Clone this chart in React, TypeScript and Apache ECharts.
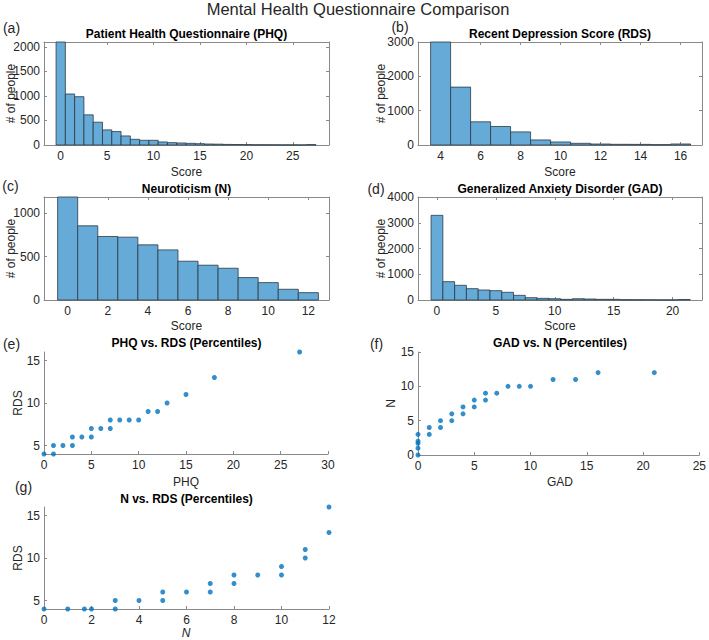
import React, { useEffect, useRef } from "react";
import * as echarts from "echarts";

// ---------- Data ----------
const phqScores = [0, 1, 2, 3, 4, 5, 6, 7, 8, 9, 10, 11, 12, 13, 14, 15, 16, 17, 18, 19, 20, 21, 22, 23, 24, 25, 26, 27];
const phqCounts = [2100, 1040, 985, 615, 465, 308, 274, 185, 116, 96, 96, 62, 48, 41, 34, 27, 20, 17, 12, 10, 8, 6, 5, 4, 3, 3, 2, 8];

const rdsScores = [4, 5, 6, 7, 8, 9, 10, 11, 12, 13, 14, 15, 16];
const rdsCounts = [3000, 1686, 676, 539, 382, 147, 88, 49, 29, 20, 18, 10, 30];

const nScores = [0, 1, 2, 3, 4, 5, 6, 7, 8, 9, 10, 11, 12];
const nCounts = [1190, 857, 734, 726, 637, 579, 448, 402, 367, 259, 201, 124, 85];

const gadScores = [0, 1, 2, 3, 4, 5, 6, 7, 8, 9, 10, 11, 12, 13, 14, 15, 16, 17, 18, 19, 20, 21];
const gadCounts = [3288, 712, 570, 440, 388, 362, 298, 181, 90, 65, 50, 26, 50, 39, 26, 26, 13, 10, 8, 6, 5, 20];

// Percentile scatter data
const ePHQ = [0, 1, 1, 2, 3, 3, 4, 5, 5, 6, 7, 7, 8, 9, 10, 11, 12, 13, 15, 18, 27];
const eRDS = [4, 4, 5, 5, 5, 6, 6, 6, 7, 7, 7, 8, 8, 8, 8, 9, 9, 10, 11, 13, 16];

const fGAD = [0, 0, 0, 0, 0, 1, 1, 2, 2, 3, 3, 4, 4, 5, 5, 6, 6, 7, 8, 9, 10, 12, 14, 16, 21];
const fN = [0, 1, 1.7, 2, 3, 3, 4, 4, 5, 5, 6, 6, 7, 7, 8, 8, 9, 9, 10, 10, 10, 11, 11, 12, 12];

const gN = [0, 1, 1.7, 2, 3, 3, 4, 5, 5, 6, 7, 7, 8, 8, 9, 10, 10, 11, 11, 12, 12];
const gRDS = [4, 4, 4, 4, 4, 5, 5, 5, 6, 6, 6, 7, 7, 8, 8, 8, 9, 10, 11, 13, 16];

// Tick labels
const phqTicks = [0, 5, 10, 15, 20, 25];
const rdsTicks = [4, 6, 8, 10, 12, 14, 16];
const nTicks = [0, 2, 4, 6, 8, 10, 12];
const gadTicks = [0, 5, 10, 15, 20];
const aYTicks = [0, 500, 1000, 1500, 2000];
const bYTicks = [0, 1000, 2000, 3000];
const cYTicks = [0, 500, 1000];
const dYTicks = [0, 1000, 2000, 3000, 4000];
const eXTicks = [0, 5, 10, 15, 20, 25, 30];
const eYTicks = [5, 10, 15];
const fXTicks = [0, 5, 10, 15, 20, 25];
const fYTicks = [0, 5, 10, 15];
const gXTicks = [0, 2, 4, 6, 8, 10, 12];
const gYTicks = [5, 10, 15];

// ---------- Styles ----------
const FONT = "'Liberation Sans', Arial, Helvetica, sans-serif";
const AXIS_COLOR = "#8a8a8a";
const TEXT_COLOR = "#262626";
const BAR_FILL = "#66AAD7";
const BAR_EDGE = "#2b3a44";
const DOT_COLOR = "#0072BD";

function makeAxis(
  kind: "x" | "y",
  gridIndex: number,
  position: string,
  min: number,
  max: number,
  ticks: number[],
  showLabel: boolean
) {
  return {
    type: "value",
    gridIndex,
    position,
    min,
    max,
    axisLine: { show: true, onZero: false, lineStyle: { color: AXIS_COLOR, width: 1 } },
    axisTick: { show: true, inside: true, length: 3, customValues: ticks, lineStyle: { color: AXIS_COLOR } },
    axisLabel: {
      show: showLabel,
      customValues: ticks,
      formatter: (v: number) => String(v),
      margin: kind === "x" ? 5 : 4,
      color: TEXT_COLOR,
      fontSize: 12,
      fontFamily: FONT,
    },
    splitLine: { show: false },
  };
}

export default function App() {
  const ref = useRef<HTMLDivElement>(null);

  useEffect(() => {
    if (!ref.current) return;
    const chart = echarts.init(ref.current, undefined, { renderer: "svg" });

    const grids: any[] = [];
    const xAxes: any[] = [];
    const yAxes: any[] = [];
    const series: any[] = [];

    const addHist = (
      g: { left: number; top: number; width: number; height: number },
      xmin: number,
      xmax: number,
      xticks: number[],
      ymax: number,
      yticks: number[],
      scores: number[],
      counts: number[]
    ) => {
      const gi = grids.length;
      grids.push({ ...g, containLabel: false });
      const xi = xAxes.length;
      xAxes.push(makeAxis("x", gi, "bottom", xmin, xmax, xticks, true));
      xAxes.push(makeAxis("x", gi, "top", xmin, xmax, xticks, false));
      const yi = yAxes.length;
      yAxes.push(makeAxis("y", gi, "left", 0, ymax, yticks, true));
      yAxes.push(makeAxis("y", gi, "right", 0, ymax, yticks, false));
      series.push({
        type: "custom",
        xAxisIndex: xi,
        yAxisIndex: yi,
        silent: true,
        encode: { x: 0, y: 1 },
        data: scores.map((s, i) => [s, counts[i]]),
        renderItem: (params: any, api: any) => {
          const x = api.value(0);
          const y = Math.min(api.value(1), ymax);
          const p0 = api.coord([x - 0.5, y]);
          const p1 = api.coord([x + 0.5, 0]);
          return {
            type: "rect",
            shape: { x: p0[0], y: p0[1], width: p1[0] - p0[0], height: p1[1] - p0[1] },
            style: { fill: BAR_FILL, stroke: BAR_EDGE, lineWidth: 0.8 },
          };
        },
      });
    };

    const addScatter = (
      g: { left: number; top: number; width: number; height: number },
      xmin: number,
      xmax: number,
      xticks: number[],
      ymin: number,
      ymax: number,
      yticks: number[],
      xs: number[],
      ys: number[]
    ) => {
      const gi = grids.length;
      grids.push({ ...g, containLabel: false });
      const xi = xAxes.length;
      xAxes.push(makeAxis("x", gi, "bottom", xmin, xmax, xticks, true));
      const yi = yAxes.length;
      yAxes.push(makeAxis("y", gi, "left", ymin, ymax, yticks, true));
      series.push({
        type: "scatter",
        xAxisIndex: xi,
        yAxisIndex: yi,
        symbol: "circle",
        symbolSize: 5,
        itemStyle: { color: DOT_COLOR },
        silent: true,
        data: xs.map((x, i) => [x, ys[i]]),
      });
    };

    addHist({ left: 44, top: 42, width: 285, height: 103 }, -1.8, 28.9, phqTicks, 2100, aYTicks, phqScores, phqCounts);
    addHist({ left: 418, top: 42, width: 284, height: 103 }, 2.87, 17.07, rdsTicks, 3000, bYTicks, rdsScores, rdsCounts);
    addHist({ left: 44, top: 197, width: 285, height: 103 }, -1.18, 13.03, nTicks, 1190, cYTicks, nScores, nCounts);
    addHist({ left: 418, top: 197, width: 284, height: 103 }, -1.61, 22.5, gadTicks, 4000, dYTicks, gadScores, gadCounts);
    addScatter({ left: 44, top: 352, width: 284, height: 102 }, 0, 30, eXTicks, 4, 16, eYTicks, ePHQ, eRDS);
    addScatter({ left: 418, top: 352, width: 284, height: 103 }, 0, 25, fXTicks, 0, 15, fYTicks, fGAD, fN);
    addScatter({ left: 44, top: 507, width: 285, height: 102 }, 0, 12, gXTicks, 4, 16, gYTicks, gN, gRDS);

    const txt = (
      text: string,
      x: number,
      y: number,
      size: number,
      opts: { bold?: boolean; italic?: boolean; rotate?: boolean; color?: string } = {}
    ) => ({
      type: "text",
      x,
      y,
      rotation: opts.rotate ? Math.PI / 2 : 0,
      silent: true,
      style: {
        text,
        fill: opts.color || "#000",
        font: `${opts.italic ? "italic " : ""}${opts.bold ? "bold " : ""}${size}px ${FONT}`,
        align: "center",
        verticalAlign: "middle",
      },
    });

    const graphics = [
      txt("Mental Health Questionnaire Comparison", 358, 9, 16.5, { color: "#262626" }),
      // panel letters
      txt("(a)", 11.5, 28, 14, { color: "#262626" }),
      txt("(b)", 400, 27, 14, { color: "#262626" }),
      txt("(c)", 10.5, 186, 14, { color: "#262626" }),
      txt("(d)", 376, 189, 14, { color: "#262626" }),
      txt("(e)", 11.5, 344, 14, { color: "#262626" }),
      txt("(f)", 376.5, 344, 14, { color: "#262626" }),
      txt("(g)", 23.5, 487, 14, { color: "#262626" }),
      // panel titles
      txt("Patient Health Questionnaire (PHQ)", 186.5, 33.5, 12, { bold: true }),
      txt("Recent Depression Score (RDS)", 560, 33.5, 12, { bold: true }),
      txt("Neuroticism (N)", 186.5, 189, 12, { bold: true }),
      txt("Generalized Anxiety Disorder (GAD)", 560, 189, 12, { bold: true }),
      txt("PHQ vs. RDS (Percentiles)", 186.5, 343, 12, { bold: true }),
      txt("GAD vs. N (Percentiles)", 560, 343, 12, { bold: true }),
      txt("N vs. RDS (Percentiles)", 186.5, 499, 12, { bold: true }),
      // x-axis names
      txt("Score", 186.5, 172, 12, { color: TEXT_COLOR }),
      txt("Score", 560, 172, 12, { color: TEXT_COLOR }),
      txt("Score", 186.5, 326, 12, { color: TEXT_COLOR }),
      txt("Score", 560, 326, 12, { color: TEXT_COLOR }),
      txt("PHQ", 186, 482, 12, { color: TEXT_COLOR }),
      txt("GAD", 560, 482, 12, { color: TEXT_COLOR }),
      txt("N", 186, 633, 12, { color: TEXT_COLOR, italic: true }),
      // y-axis names
      txt("# of people", 11, 93.5, 12, { color: TEXT_COLOR, rotate: true }),
      txt("# of people", 381, 93.5, 12, { color: TEXT_COLOR, rotate: true }),
      txt("# of people", 11, 248.5, 12, { color: TEXT_COLOR, rotate: true }),
      txt("# of people", 381, 248.5, 12, { color: TEXT_COLOR, rotate: true }),
      txt("RDS", 18, 403, 12, { color: TEXT_COLOR, rotate: true }),
      txt("N", 391, 403.5, 12, { color: TEXT_COLOR, rotate: true }),
      txt("RDS", 18, 558, 12, { color: TEXT_COLOR, rotate: true }),
    ];

    chart.setOption({
      animation: false,
      backgroundColor: "#ffffff",
      grid: grids,
      xAxis: xAxes,
      yAxis: yAxes,
      series,
      graphic: graphics,
    });

    return () => chart.dispose();
  }, []);

  return (
    <div
      ref={ref}
      style={{ position: "absolute", left: 0, top: 0, width: 709, height: 640 }}
    />
  );
}
